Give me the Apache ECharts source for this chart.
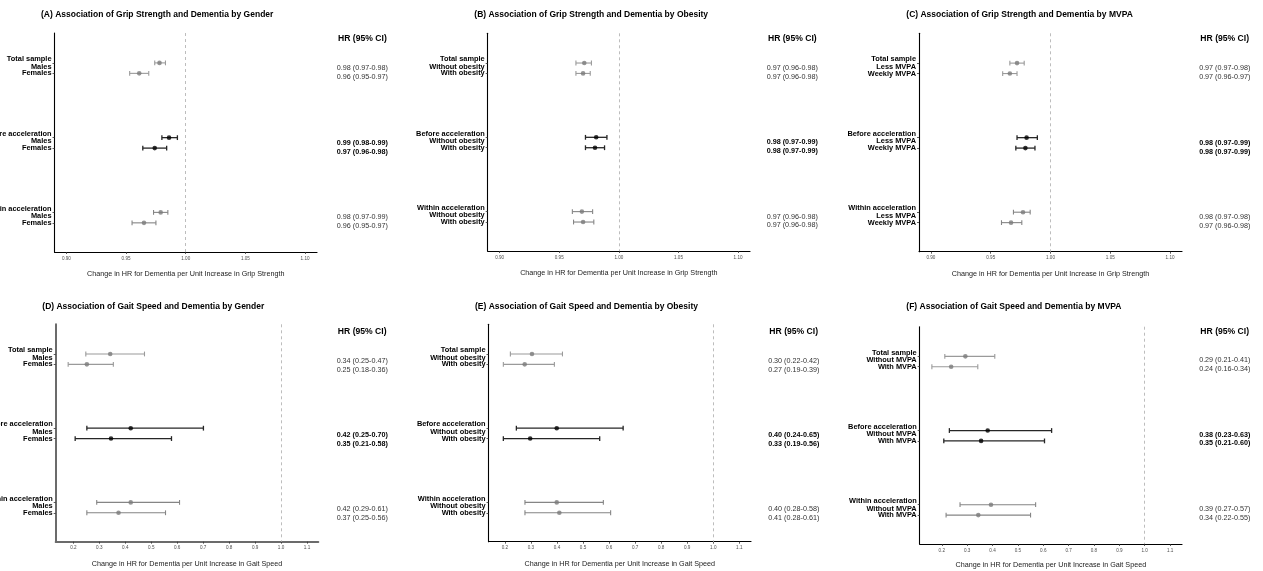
<!DOCTYPE html>
<html><head><meta charset="utf-8">
<script src="https://cdn.jsdelivr.net/npm/echarts@6/dist/echarts.min.js"></script>
<style>html,body{margin:0;padding:0;background:#fff}#c{width:1263px;height:571px}</style>
</head><body><div id="c"></div>
<script>
// ---------- DATA ----------
const groups = ['Total sample', 'Before acceleration', 'Within acceleration'];
const gripTicks = [0.90, 0.95, 1.00, 1.05, 1.10];
const gaitTicks = [0.2, 0.3, 0.4, 0.5, 0.6, 0.7, 0.8, 0.9, 1.0, 1.1];
const gripXName = 'Change in HR for Dementia per Unit Increase in Grip Strength';
const gaitXName = 'Change in HR for Dementia per Unit Increase in Gait Speed';
const tableHeader = 'HR (95% CI)';

// (A) Grip strength by gender
const A_title = '(A) Association of Grip Strength and Dementia by Gender';
const A_sub = ['Males', 'Females'];
const A_hr = [0.978, 0.961, 0.986, 0.974, 0.979, 0.965];
const A_lo = [0.974, 0.953, 0.980, 0.964, 0.973, 0.955];
const A_hi = [0.983, 0.969, 0.993, 0.984, 0.985, 0.975];
const A_txt = ['0.98 (0.97-0.98)', '0.96 (0.95-0.97)', '0.99 (0.98-0.99)', '0.97 (0.96-0.98)', '0.98 (0.97-0.99)', '0.96 (0.95-0.97)'];

// (B) Grip strength by obesity
const B_title = '(B) Association of Grip Strength and Dementia by Obesity';
const B_sub = ['Without obesity', 'With obesity'];
const B_hr = [0.971, 0.970, 0.981, 0.980, 0.969, 0.970];
const B_lo = [0.964, 0.964, 0.972, 0.972, 0.961, 0.962];
const B_hi = [0.977, 0.976, 0.990, 0.988, 0.978, 0.979];
const B_txt = ['0.97 (0.96-0.98)', '0.97 (0.96-0.98)', '0.98 (0.97-0.99)', '0.98 (0.97-0.99)', '0.97 (0.96-0.98)', '0.97 (0.96-0.98)'];

// (C) Grip strength by MVPA
const C_title = '(C) Association of Grip Strength and Dementia by MVPA';
const C_sub = ['Less MVPA', 'Weekly MVPA'];
const C_hr = [0.972, 0.966, 0.980, 0.979, 0.977, 0.967];
const C_lo = [0.966, 0.960, 0.972, 0.971, 0.969, 0.959];
const C_hi = [0.978, 0.972, 0.989, 0.987, 0.983, 0.976];
const C_txt = ['0.97 (0.97-0.98)', '0.97 (0.96-0.97)', '0.98 (0.97-0.99)', '0.98 (0.97-0.99)', '0.98 (0.97-0.98)', '0.97 (0.96-0.98)'];

// (D) Gait speed by gender
const D_title = '(D) Association of Gait Speed and Dementia by Gender';
const D_sub = ['Males', 'Females'];
const D_hr = [0.342, 0.252, 0.421, 0.345, 0.421, 0.374];
const D_lo = [0.248, 0.180, 0.252, 0.207, 0.290, 0.252];
const D_hi = [0.474, 0.354, 0.701, 0.578, 0.609, 0.555];
const D_txt = ['0.34 (0.25-0.47)', '0.25 (0.18-0.36)', '0.42 (0.25-0.70)', '0.35 (0.21-0.58)', '0.42 (0.29-0.61)', '0.37 (0.25-0.56)'];

// (E) Gait speed by obesity
const E_title = '(E) Association of Gait Speed and Dementia by Obesity';
const E_sub = ['Without obesity', 'With obesity'];
const E_hr = [0.304, 0.276, 0.399, 0.297, 0.399, 0.409];
const E_lo = [0.221, 0.194, 0.244, 0.194, 0.277, 0.277];
const E_hi = [0.421, 0.390, 0.654, 0.564, 0.578, 0.606];
const E_txt = ['0.30 (0.22-0.42)', '0.27 (0.19-0.39)', '0.40 (0.24-0.65)', '0.33 (0.19-0.56)', '0.40 (0.28-0.58)', '0.41 (0.28-0.61)'];

// (F) Gait speed by MVPA
const F_title = '(F) Association of Gait Speed and Dementia by MVPA';
const F_sub = ['Without MVPA', 'With MVPA'];
const F_hr = [0.293, 0.237, 0.381, 0.355, 0.394, 0.344];
const F_lo = [0.212, 0.161, 0.230, 0.208, 0.272, 0.217];
const F_hi = [0.409, 0.342, 0.633, 0.605, 0.570, 0.550];
const F_txt = ['0.29 (0.21-0.41)', '0.24 (0.16-0.34)', '0.38 (0.23-0.63)', '0.35 (0.21-0.60)', '0.39 (0.27-0.57)', '0.34 (0.22-0.55)'];

// ---------- STYLE / LAYOUT ----------
const FONT = '"Liberation Sans", Arial, Helvetica, sans-serif';
const SUB_OFF = 0.14;          // second row offset within a group (y units)
const Y_MIN = 0.6, Y_MAX = 3.53; // groups sit at y = 1, 2, 3
const barColors = ['#9a9a9a', '#262626', '#858585'];
const ptColors = ['#7a7a7a', '#000000', '#7a7a7a'];

const panels = [
  {t: A_title, sub: A_sub, hr: A_hr, lo: A_lo, hi: A_hi, txt: A_txt, ticks: gripTicks, dec: 2, xmin: 0.89, xmax: 1.11, xname: gripXName,
   g: {l: 54.5, t: 33, r: 317, b: 252}, tl: 41, tc: 14.3, rows: [0.067, 0.187], head: -0.326, tcx: 362.4, ax: '#000', aw: 1.1, ng: 18.5},
  {t: B_title, sub: B_sub, hr: B_hr, lo: B_lo, hi: B_hi, txt: B_txt, ticks: gripTicks, dec: 2, xmin: 0.89, xmax: 1.11, xname: gripXName,
   g: {l: 487.7, t: 33.3, r: 750, b: 251}, tl: 474.3, tc: 15, rows: [0.067, 0.187], head: -0.33, tcx: 792.3, ax: '#000', aw: 1.1, ng: 19},
  {t: C_title, sub: C_sub, hr: C_hr, lo: C_lo, hi: C_hi, txt: C_txt, ticks: gripTicks, dec: 2, xmin: 0.89, xmax: 1.11, xname: gripXName,
   g: {l: 919, t: 33.3, r: 1182, b: 251.7}, tl: 906.3, tc: 15, rows: [0.067, 0.187], head: -0.33, tcx: 1224.7, ax: '#000', aw: 1.1, ng: 18.5},
  {t: D_title, sub: D_sub, hr: D_hr, lo: D_lo, hi: D_hi, txt: D_txt, ticks: gaitTicks, dec: 1, xmin: 0.132, xmax: 1.1435, xname: gaitXName,
   g: {l: 55.7, t: 324.3, r: 318.3, b: 541.7}, tl: 42.3, tc: 306.7, rows: [0.094, 0.215], head: -0.30, tcx: 362.2, ax: '#6b6b6b', aw: 2, ng: 18.7},
  {t: E_title, sub: E_sub, hr: E_hr, lo: E_lo, hi: E_hi, txt: E_txt, ticks: gaitTicks, dec: 1, xmin: 0.137, xmax: 1.145, xname: gaitXName,
   g: {l: 488.5, t: 324.3, r: 751, b: 541.7}, tl: 475, tc: 306.7, rows: [0.094, 0.215], head: -0.30, tcx: 793.7, ax: '#000', aw: 1.1, ng: 18.7},
  {t: F_title, sub: F_sub, hr: F_hr, lo: F_lo, hi: F_hi, txt: F_txt, ticks: gaitTicks, dec: 1, xmin: 0.113, xmax: 1.147, xname: gaitXName,
   g: {l: 919.7, t: 326.7, r: 1182, b: 544}, tl: 906.3, tc: 306.7, rows: [0.054, 0.175], head: -0.34, tcx: 1224.7, ax: '#000', aw: 1.1, ng: 18}
];

function pick(list, v) {
  let best = 0, bd = Infinity;
  list.forEach((x, i) => { const d = Math.abs(x - v); if (d < bd) { bd = d; best = i; } });
  return best;
}

const option = {animation: false, backgroundColor: '#fff', title: [], grid: [], xAxis: [], yAxis: [], series: []};
const labelBase = {fontFamily: FONT, fontSize: 7.4, fontWeight: 'bold', color: '#000'};

panels.forEach((p, k) => {
  option.title.push({text: p.t, left: p.tl, top: p.tc - 5, padding: 0,
    textStyle: {fontFamily: FONT, fontSize: 8.5, fontWeight: 'bold', color: '#000', lineHeight: 10}});
  option.grid.push({left: p.g.l, top: p.g.t, width: p.g.r - p.g.l, height: p.g.b - p.g.t,
    containLabel: false, outerBoundsMode: 'none'});

  const ptY = [], grpY = [], grpLab = [], subY = [], subLab = [];
  for (let g = 0; g < 3; g++) {
    ptY.push(g + 1, g + 1 + SUB_OFF);
    grpY.push(g + 1); grpLab.push(groups[g] + '\n' + p.sub[0]);
    subY.push(g + 1 + SUB_OFF); subLab.push(p.sub[1]);
  }
  const tabY = [1 + p.head], tabLab = ['{h|' + tableHeader + '}'];
  for (let g = 0; g < 3; g++) {
    for (let s = 0; s < 2; s++) {
      tabY.push(g + 1 + p.rows[s]);
      const t = p.txt[g * 2 + s];
      tabLab.push(g === 1 ? '{b|' + t + '}' : '{n|' + t + '}');
    }
  }

  option.xAxis.push({
    type: 'value', gridIndex: k, min: p.xmin, max: p.xmax, position: 'bottom',
    name: p.xname, nameLocation: 'middle', nameGap: p.ng,
    nameTextStyle: {fontFamily: FONT, fontSize: 7.2, color: '#1a1a1a'},
    axisLine: {show: true, onZero: false, lineStyle: {color: p.ax, width: p.aw}},
    axisTick: {show: true, length: 2, customValues: p.ticks.slice(), lineStyle: {color: '#333', width: 0.8}},
    axisLabel: {show: true, customValues: p.ticks.slice(), margin: 4, fontFamily: FONT, fontSize: 4.6, color: '#4d4d4d',
      showMinLabel: true, showMaxLabel: true, hideOverlap: false,
      formatter: v => v.toFixed(p.dec)},
    splitLine: {show: false}
  });
  // main left axis: line, ticks at every point, group labels (first two lines)
  option.yAxis.push({
    type: 'value', gridIndex: k, min: Y_MIN, max: Y_MAX, inverse: true, position: 'left',
    axisLine: {show: true, onZero: false, lineStyle: {color: p.ax, width: p.aw}},
    axisTick: {show: true, length: 2, customValues: ptY.slice(), lineStyle: {color: '#333', width: 0.8}},
    axisLabel: Object.assign({show: true, customValues: grpY.slice(), margin: 3, align: 'right', hideOverlap: false,
      showMinLabel: true, showMaxLabel: true, lineHeight: 7.6, padding: [2, 0, 0, 0],
      formatter: v => grpLab[pick(grpY, v)]}, labelBase),
    splitLine: {show: false}
  });
  // second left axis: labels of the second row of each group
  option.yAxis.push({
    type: 'value', gridIndex: k, min: Y_MIN, max: Y_MAX, inverse: true, position: 'left', offset: 0,
    axisLine: {show: false, onZero: false}, axisTick: {show: false}, splitLine: {show: false},
    axisLabel: Object.assign({show: true, customValues: subY.slice(), margin: 3, align: 'right', hideOverlap: false,
      showMinLabel: true, showMaxLabel: true, lineHeight: 7.6,
      formatter: v => subLab[pick(subY, v)]}, labelBase)
  });
  // right axis: HR (95% CI) table
  option.yAxis.push({
    type: 'value', gridIndex: k, min: Y_MIN, max: Y_MAX, inverse: true, position: 'right',
    axisLine: {show: false, onZero: false}, axisTick: {show: false}, splitLine: {show: false},
    axisLabel: {show: true, customValues: tabY.slice(), margin: p.tcx - p.g.r, align: 'center', hideOverlap: false,
      showMinLabel: true, showMaxLabel: true,
      formatter: v => tabLab[pick(tabY, v)],
      rich: {
        h: {fontFamily: FONT, fontSize: 8.6, fontWeight: 'bold', color: '#000'},
        b: {fontFamily: FONT, fontSize: 7.2, fontWeight: 'bold', color: '#000'},
        n: {fontFamily: FONT, fontSize: 7.2, color: '#333'}
      }}
  });

  const barData = [], ptData = [];
  for (let i = 0; i < 6; i++) {
    const g = Math.floor(i / 2), y = ptY[i];
    barData.push([p.hr[i], y, p.lo[i], p.hi[i], g]);
    ptData.push({value: [p.hr[i], y], itemStyle: {color: ptColors[g]}});
  }
  option.series.push({
    type: 'custom', xAxisIndex: k, yAxisIndex: 3 * k, data: barData,
    encode: {x: [0, 2, 3], y: 1}, z: 2,
    renderItem: (params, api) => {
      const y = api.value(1), lo = api.value(2), hi = api.value(3), g = api.value(4);
      const a = api.coord([lo, y]), b = api.coord([hi, y]);
      const c = barColors[g], w = g === 1 ? 1.3 : 1.1, h = 2.4;
      return {type: 'group', children: [
        {type: 'line', shape: {x1: a[0], y1: a[1], x2: b[0], y2: b[1]}, style: {stroke: c, lineWidth: w}},
        {type: 'line', shape: {x1: a[0], y1: a[1] - h, x2: a[0], y2: a[1] + h}, style: {stroke: c, lineWidth: w}},
        {type: 'line', shape: {x1: b[0], y1: b[1] - h, x2: b[0], y2: b[1] + h}, style: {stroke: c, lineWidth: w}}
      ]};
    }
  });
  option.series.push({
    type: 'scatter', xAxisIndex: k, yAxisIndex: 3 * k, data: ptData, symbol: 'circle', symbolSize: 4.6, z: 3,
    markLine: {silent: true, symbol: 'none', label: {show: false},
      lineStyle: {color: '#bdbdbd', type: [3, 3], width: 1},
      data: [{xAxis: 1}]}
  });
});

const chart = echarts.init(document.getElementById('c'), null, {renderer: 'canvas'});
chart.setOption(option);
</script></body></html>
